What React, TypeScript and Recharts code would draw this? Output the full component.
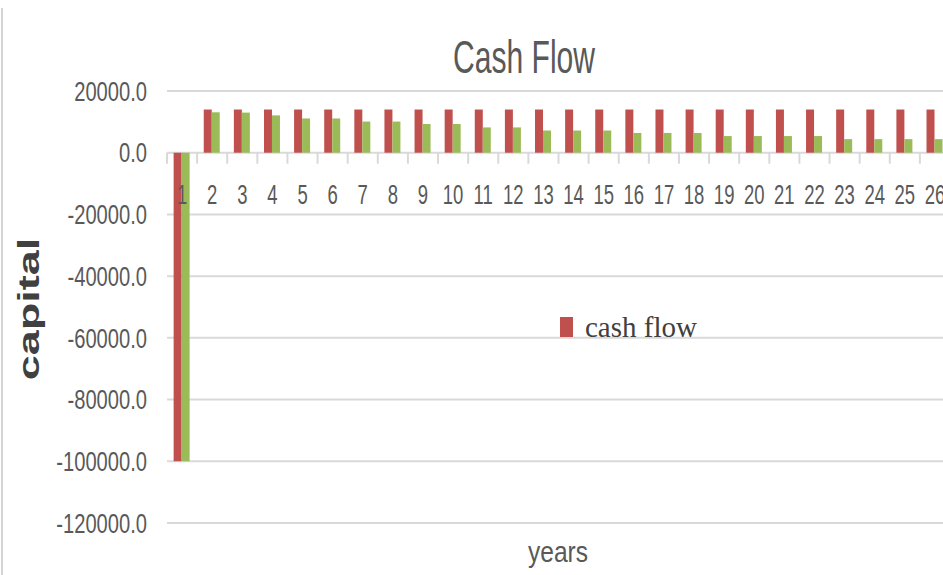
import React from 'react';
import { BarChart, Bar, XAxis, YAxis, CartesianGrid, Legend } from 'recharts';

const years = ['1', '2', '3', '4', '5', '6', '7', '8', '9', '10', '11', '12', '13', '14', '15', '16', '17', '18', '19', '20', '21', '22', '23', '24', '25', '26'];
const cashFlow = [-100000, 14000, 14000, 14000, 14000, 14000, 14000, 14000, 14000, 14000, 14000, 14000, 14000, 14000, 14000, 14000, 14000, 14000, 14000, 14000, 14000, 14000, 14000, 14000, 14000, 14000];
const discounted = [-100000, 13100, 13000, 12100, 11100, 11100, 10100, 10100, 9300, 9300, 8200, 8200, 7200, 7200, 7200, 6400, 6400, 6400, 5400, 5400, 5400, 5400, 4400, 4400, 4400, 4400];
const yTicks = [20000, 0, -20000, -40000, -60000, -80000, -100000, -120000];

const data = years.map((y, i) => ({ year: y, cashFlow: cashFlow[i], discounted: discounted[i] }));

const RED = '#c0504d';
const GREEN = '#9bbb59';
const GRID = '#d9d9d9';
const TXT = '#595959';
const SANS = '"Liberation Sans", Arial, sans-serif';

const W = 960;
const H = 575;
const M = { top: 91, right: 10, bottom: 0, left: 0 };
const Y_AXIS_W = 167;
const X_AXIS_H = 52;
const PLOT_LEFT = M.left + Y_AXIS_W;
const PLOT_W = W - PLOT_LEFT - M.right;
const PLOT_H = H - M.top - M.bottom - X_AXIS_H;
const Y_MAX = 20000;
const Y_MIN = -120000;
const ZERO_Y = M.top + (Y_MAX / (Y_MAX - Y_MIN)) * PLOT_H;
const BAND = PLOT_W / years.length;

const XTick = (props: any) => {
  const { x, payload } = props;
  return (
    <g>
      <line x1={x - BAND / 2} x2={x - BAND / 2} y1={ZERO_Y} y2={ZERO_Y + 11} stroke={GRID} strokeWidth={2} />
      <text
        transform={`translate(${x},${ZERO_Y + 51}) scale(0.66,1)`}
        textAnchor="middle"
        fontSize={28}
        fill={TXT}
        fontFamily={SANS}
      >
        {payload.value}
      </text>
    </g>
  );
};

const YTick = (props: any) => {
  const { y, payload } = props;
  return (
    <text
      transform={`translate(${PLOT_LEFT - 20},${y}) scale(0.72,1)`}
      textAnchor="end"
      dominantBaseline="central"
      fontSize={28}
      fill={TXT}
      fontFamily={SANS}
    >
      {Number(payload.value).toFixed(1)}
    </text>
  );
};

const LegendContent = (props: any) => {
  const items = (props.payload || []).filter((p: any) => p.type !== 'none');
  return (
    <div style={{ display: 'flex', alignItems: 'center' }}>
      {items.map((p: any) => (
        <div key={p.value} style={{ display: 'flex', alignItems: 'center' }}>
          <span style={{ display: 'inline-block', width: 13, height: 20, background: p.color, marginRight: 12 }} />
          <span style={{ fontFamily: '"Liberation Serif", "Times New Roman", serif', fontSize: 29, color: '#404040', lineHeight: '30px' }}>
            {p.value}
          </span>
        </div>
      ))}
    </div>
  );
};

export default function App() {
  return (
    <div style={{ position: 'absolute', left: 0, top: 0, width: 943, height: 575, overflow: 'hidden', background: '#fff' }}>
      <div style={{ position: 'absolute', left: 1, top: 8, width: 2, height: 567, background: '#d4d4d4' }} />
      <BarChart width={W} height={H} data={data} margin={M} barCategoryGap="22%" barGap={0}>
        <CartesianGrid vertical={false} stroke={GRID} strokeWidth={2} />
        <XAxis dataKey="year" height={X_AXIS_H} axisLine={false} tickLine={false} tick={<XTick />} interval={0} />
        <YAxis
          width={Y_AXIS_W}
          domain={[Y_MIN, Y_MAX]}
          ticks={yTicks}
          axisLine={false}
          tickLine={false}
          tick={<YTick />}
          interval={0}
        />
        <Legend
          layout="horizontal"
          verticalAlign="middle"
          align="center"
          content={<LegendContent />}
          wrapperStyle={{ left: 560, top: 312, width: 200, height: 34 }}
        />
        <Bar dataKey="cashFlow" name="cash flow" fill={RED} isAnimationActive={false} />
        <Bar dataKey="discounted" name="discounted" fill={GREEN} legendType="none" isAnimationActive={false} />
      </BarChart>
      <svg width={943} height={575} style={{ position: 'absolute', left: 0, top: 0, pointerEvents: 'none' }}>
        <text x={524} y={73} textAnchor="middle" fontSize={46} fill={TXT} fontFamily={SANS} textLength={142} lengthAdjust="spacingAndGlyphs">
          Cash Flow
        </text>
        <text x={558} y={562} textAnchor="middle" fontSize={30} fill={TXT} fontFamily={SANS} textLength={60} lengthAdjust="spacingAndGlyphs">
          years
        </text>
        <text
          transform="translate(29,309) scale(0.65,1) rotate(-90)"
          textAnchor="middle"
          dominantBaseline="central"
          fontSize={45}
          fontWeight="bold"
          fill="#404040"
          fontFamily={SANS}
        >
          capital
        </text>
      </svg>
    </div>
  );
}
